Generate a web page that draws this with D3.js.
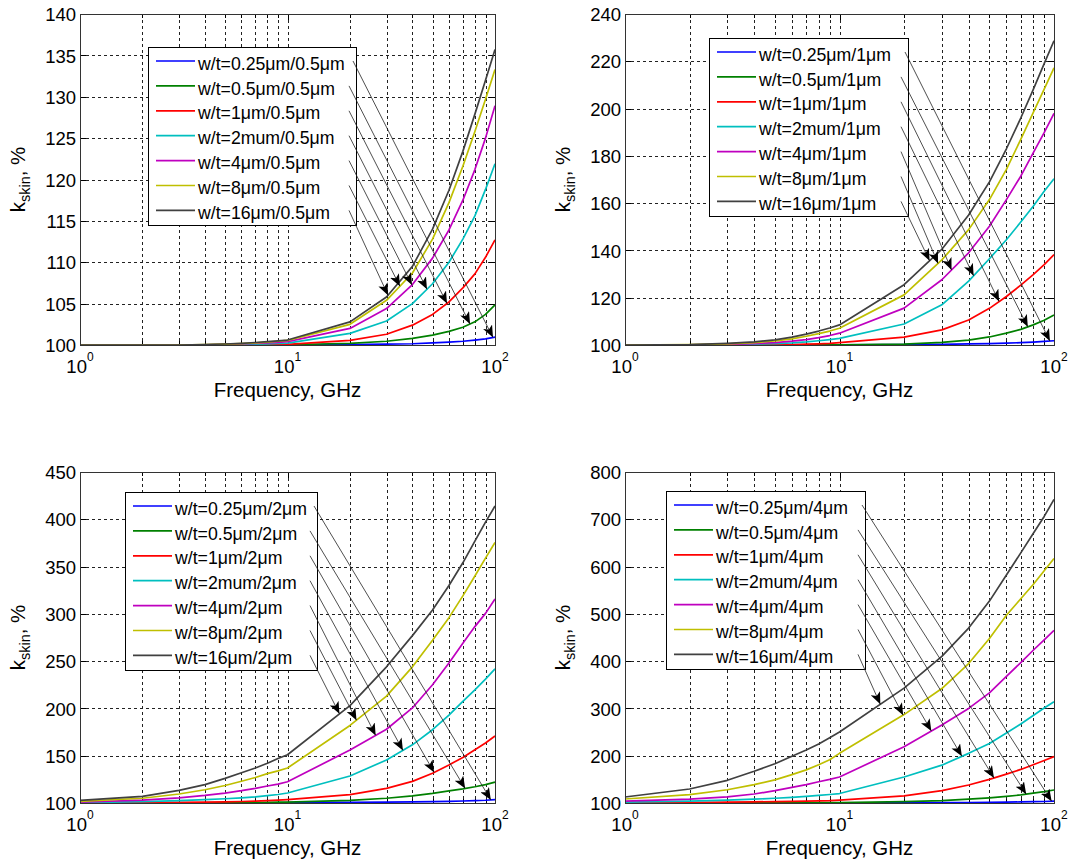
<!DOCTYPE html>
<html>
<head>
<meta charset="utf-8">
<script src="https://cdn.jsdelivr.net/npm/d3@7"></script>
<style>
  body { margin: 0; background: #fff; }
  svg text { font-family: "Liberation Sans", Arial, sans-serif; fill: #000; }
</style>
</head>
<body>
<div id="chart"></div>
<script>
const width = 1072;
const height = 861;

// frequency points, GHz
const freqs = [1, 2, 3, 4, 5, 6, 7, 8, 9, 10, 20, 30, 40, 50, 60, 70, 80, 90, 100];

const colors = ["#0000ff", "#008000", "#ff0000", "#00bfbf", "#bf00bf", "#bfbf00", "#404040"];

// t = 0.5um
const labels_t05 = ["w/t=0.25μm/0.5μm", "w/t=0.5μm/0.5μm", "w/t=1μm/0.5μm", "w/t=2mum/0.5μm",
    "w/t=4μm/0.5μm", "w/t=8μm/0.5μm", "w/t=16μm/0.5μm"];
const ks_t05 = [
    [100,100,100,100,100,100,100,100,100,100.02,100.05,100.1,100.15,100.25,100.35,100.45,100.6,100.75,100.95],
    [100,100,100,100,100,100,100,100.01,100.02,100.03,100.2,100.45,100.8,101.2,101.65,102.15,102.8,103.7,104.85],
    [100,100,100,100,100.01,100.02,100.03,100.04,100.05,100.07,100.55,101.3,102.4,103.7,105.2,106.9,108.6,110.6,112.7],
    [100,100,100,100.02,100.04,100.07,100.1,100.14,100.18,100.22,101.4,102.9,105.0,107.4,110.0,112.8,115.6,118.8,121.9],
    [100,100,100,100.03,100.07,100.12,100.18,100.25,100.32,100.4,102.0,104.4,107.3,110.5,113.9,117.5,121.2,125.0,128.9],
    [100,100,100,100.05,100.1,100.17,100.25,100.35,100.45,100.55,102.5,105.4,108.7,112.8,117.2,121.6,125.8,129.7,133.3],
    [100,100,100,100.06,100.12,100.2,100.3,100.4,100.5,100.6,102.8,105.8,109.5,114.0,118.7,123.4,127.9,132.0,135.7]
];
const arrows_t05 = [97.8, 75.8, 58.7, 47, 39.8, 34.8, 30.5];
const yticks_t05 = [100, 105, 110, 115, 120, 125, 130, 135, 140];

// t = 1um
const labels_t1 = ["w/t=0.25μm/1μm", "w/t=0.5μm/1μm", "w/t=1μm/1μm", "w/t=2mum/1μm",
    "w/t=4μm/1μm", "w/t=8μm/1μm", "w/t=16μm/1μm"];
const ks_t1 = [
    [100,100,100,100,100,100,100,100,100,100.05,100.15,100.3,100.45,100.6,100.8,101.0,101.25,101.5,101.8],
    [100,100,100,100,100.01,100.02,100.04,100.06,100.08,100.1,100.4,101.1,102.1,103.4,105.0,106.6,108.5,110.5,112.7],
    [100,100,100.02,100.05,100.1,100.2,100.35,100.5,100.7,101.0,103.3,106.4,110.6,115.5,120.5,125.3,129.8,134.0,138.2],
    [100,100.05,100.15,100.35,100.6,100.9,101.3,101.8,102.3,102.8,108.9,117.0,127.0,136.5,144.5,152.0,158.7,165.0,170.3],
    [100,100.1,100.3,100.6,101.0,101.6,102.3,103.1,104.0,105.0,115.6,127.6,139.0,150.2,161.5,171.4,181.3,189.8,198.0],
    [100,100.15,100.5,101.0,101.7,102.6,103.7,104.8,105.9,107.1,121.2,136.0,148.8,161.5,174.3,187.0,198.3,208.2,217.2],
    [100,100.2,100.7,101.3,102.2,103.3,104.6,105.9,107.2,108.5,125.5,140.5,155.0,169.0,183.0,196.0,208.0,219.0,228.7]
];
const arrows_t1 = [95.7, 75.5, 55.5, 42.2, 33.3, 28.8, 26.3];
const yticks_t1 = [100, 120, 140, 160, 180, 200, 220, 240];

// t = 2um
const labels_t2 = ["w/t=0.25μm/2μm", "w/t=0.5μm/2μm", "w/t=1μm/2μm", "w/t=2mum/2μm",
    "w/t=4μm/2μm", "w/t=8μm/2μm", "w/t=16μm/2μm"];
const ks_t2 = [
    [100,100,100,100,100,100.05,100.1,100.15,100.2,100.3,100.6,100.9,101.2,101.5,101.8,102.1,102.5,102.9,103.5],
    [100,100.05,100.1,100.2,100.3,100.4,100.55,100.7,100.85,101.0,102.8,105.0,107.5,110.2,112.8,115.0,117.2,119.5,122.0],
    [100.1,100.3,100.6,100.9,101.2,101.6,102.0,102.5,103.0,103.6,108.8,115.5,122.9,131.5,140.3,148.2,156.3,163.5,170.8],
    [100.5,101.5,102.5,103.5,104.5,105.5,106.5,107.7,109.0,110.6,128.5,145.5,161.5,177.5,193.0,207.4,219.7,231.0,241.8],
    [101,103,105.5,108,110.5,113,115.5,118,120,122.5,156,178,200.5,225,248,269,286.5,300.5,315.8],
    [101.8,105,109.5,114,118.5,123,127,131,134,137,182,213,244,272,296,319,340,359,375.5],
    [102.8,107,113.4,119.4,126,132,137,142,147,151,203,244,277,304,330,354,377,397,414]
];
const arrows_t2 = [95.5, 71.8, 50.9, 36.0, 26.6, 21.5, 17.8];
const yticks_t2 = [100, 150, 200, 250, 300, 350, 400, 450];

// t = 4um
const labels_t4 = ["w/t=0.25μm/4μm", "w/t=0.5μm/4μm", "w/t=1μm/4μm", "w/t=2mum/4μm",
    "w/t=4μm/4μm", "w/t=8μm/4μm", "w/t=16μm/4μm"];
const ks_t4 = [
    [100,100,100,100,100,100,100.1,100.1,100.2,100.2,100.5,100.8,101.1,101.5,101.9,102.3,102.8,103.2,103.8],
    [100.1,100.2,100.3,100.4,100.5,100.6,100.7,100.8,100.9,101,103,105,108,111,114,117,121,124,127.5],
    [100.5,101,101.7,102.5,103,103.5,104,104.5,105,106,115,126,138,150,161,171,181,190,198],
    [102,104,106,108,110,112,114,116,118,120,155,180,205,226,248,267,285,301,314],
    [104,108,113,119,126,133,139,145,150,155,219,265,300,333,368,397,423,445,465],
    [108.5,117.6,128,138.7,149,160,170,181,191.5,205,287,342,395,448,497,532,562,591,617],
    [112.7,129.6,148,167,183,199,212,225,238,250,343,410,470,527,582,629,670,706,742]
];
const arrows_t4 = [97.5, 74.2, 52.5, 37.2, 26.8, 19.8, 15.5];
const yticks_t4 = [100, 200, 300, 400, 500, 600, 700, 800];

const panels = [
    {left: 80, right: 495, top: 14, bottom: 345, yticks: yticks_t05, data: ks_t05, labels: labels_t05, arrows: arrows_t05,
     legend: {x: 148, y: 47, w: 208, h: 178}},
    {left: 625, right: 1054, top: 14, bottom: 345, yticks: yticks_t1, data: ks_t1, labels: labels_t1, arrows: arrows_t1,
     legend: {x: 709, y: 38, w: 199, h: 178}},
    {left: 80, right: 495, top: 472, bottom: 803, yticks: yticks_t2, data: ks_t2, labels: labels_t2, arrows: arrows_t2,
     legend: {x: 125, y: 492, w: 192, h: 178}},
    {left: 625, right: 1054, top: 472, bottom: 803, yticks: yticks_t4, data: ks_t4, labels: labels_t4, arrows: arrows_t4,
     legend: {x: 666, y: 491, w: 199, h: 178}}
];

let svg = d3.select("#chart")
    .append("svg")
    .attr("width", width)
    .attr("height", height);

svg.append("rect").attr("width", width).attr("height", height).attr("fill", "#fff");

svg.append("defs").append("marker")
    .attr("id", "head")
    .attr("viewBox", "0 0 12 10")
    .attr("refX", 12)
    .attr("refY", 5)
    .attr("markerWidth", 12)
    .attr("markerHeight", 10)
    .attr("markerUnits", "userSpaceOnUse")
    .attr("orient", "auto")
    .append("path")
    .attr("d", "M0,0 L12,5 L0,10 L3,5 Z")
    .attr("fill", "#000");

// value of a series at frequency f, linear between points on the log axis
function valueAt(vals, f) {
    let i = d3.bisectRight(freqs, f) - 1;
    i = Math.max(0, Math.min(freqs.length - 2, i));
    const t = (Math.log10(f) - Math.log10(freqs[i])) / (Math.log10(freqs[i + 1]) - Math.log10(freqs[i]));
    return vals[i] + t * (vals[i + 1] - vals[i]);
}

function drawPanel(p) {
    const g = svg.append("g");

    const x = d3.scaleLog().domain([1, 100]).range([p.left, p.right]);
    const y = d3.scaleLinear().domain(d3.extent(p.yticks)).range([p.bottom, p.top]);

    const xAll = x.ticks();
    const xMajor = xAll.filter(v => Math.abs(Math.log10(v) - Math.round(Math.log10(v))) < 1e-9);
    const xMinor = xAll.filter(v => !xMajor.includes(v));

    // dotted grid
    const grid = g.append("g")
        .attr("stroke", "#222")
        .attr("stroke-width", 1)
        .attr("stroke-dasharray", "3,3")
        .attr("shape-rendering", "crispEdges");
    grid.selectAll(".gx")
        .data(xAll.filter(v => v > 1 && v < 100))
        .join("line")
        .attr("x1", d => Math.round(x(d)) + 0.5)
        .attr("x2", d => Math.round(x(d)) + 0.5)
        .attr("y1", p.top)
        .attr("y2", p.bottom);
    grid.selectAll(".gy")
        .data(p.yticks.slice(1, -1))
        .join("line")
        .attr("x1", p.left)
        .attr("x2", p.right)
        .attr("y1", d => Math.round(y(d)) + 0.5)
        .attr("y2", d => Math.round(y(d)) + 0.5);

    // inward ticks on all four sides
    const tickStyle = sel => {
        sel.select(".domain").remove();
        sel.selectAll("line").attr("stroke", "#000").attr("shape-rendering", "crispEdges");
    };
    g.append("g").attr("transform", `translate(0,${p.bottom})`)
        .call(d3.axisBottom(x).tickValues(xMajor).tickSizeInner(-6).tickSizeOuter(0).tickFormat(""))
        .call(tickStyle);
    g.append("g").attr("transform", `translate(0,${p.bottom})`)
        .call(d3.axisBottom(x).tickValues(xMinor).tickSizeInner(-4).tickSizeOuter(0).tickFormat(""))
        .call(tickStyle);
    g.append("g").attr("transform", `translate(0,${p.top})`)
        .call(d3.axisTop(x).tickValues(xMajor).tickSizeInner(-6).tickSizeOuter(0).tickFormat(""))
        .call(tickStyle);
    g.append("g").attr("transform", `translate(0,${p.top})`)
        .call(d3.axisTop(x).tickValues(xMinor).tickSizeInner(-4).tickSizeOuter(0).tickFormat(""))
        .call(tickStyle);
    g.append("g").attr("transform", `translate(${p.right},0)`)
        .call(d3.axisRight(y).tickValues(p.yticks).tickSizeInner(-6).tickSizeOuter(0).tickFormat(""))
        .call(tickStyle);

    const yAxis = g.append("g").attr("transform", `translate(${p.left},0)`)
        .call(d3.axisLeft(y).tickValues(p.yticks).tickSizeInner(-6).tickSizeOuter(0).tickPadding(4))
        .call(tickStyle);
    yAxis.selectAll("text")
        .attr("fill", "#000")
        .style("font-family", "'Liberation Sans', Arial, sans-serif")
        .style("font-size", "18.5px")
        .attr("dy", "0.36em");

    // x tick labels 10^n
    xMajor.forEach(v => {
        const t = g.append("text")
            .attr("x", x(v))
            .attr("y", p.bottom + 28)
            .attr("text-anchor", "middle")
            .style("font-size", "18.5px");
        t.append("tspan").text("10");
        t.append("tspan").attr("dy", -12).style("font-size", "12px").text(Math.round(Math.log10(v)));
    });

    // axis labels
    g.append("text")
        .attr("x", (p.left + p.right) / 2)
        .attr("y", p.bottom + 52)
        .attr("text-anchor", "middle")
        .style("font-size", "20.5px")
        .text("Frequency, GHz");

    const yl = g.append("text")
        .attr("transform", `translate(${p.left - 55},${(p.top + p.bottom) / 2}) rotate(-90)`)
        .attr("text-anchor", "middle")
        .style("font-size", "20.5px");
    yl.append("tspan").text("k");
    yl.append("tspan").attr("dy", 5).style("font-size", "14.5px").text("skin");
    yl.append("tspan").attr("dy", -5).text(", %");

    // curves
    const line = d3.line()
        .x((d, i) => x(freqs[i]))
        .y(d => y(d));
    g.append("g")
        .selectAll("path")
        .data(p.data)
        .join("path")
        .attr("fill", "none")
        .attr("stroke", (d, i) => colors[i])
        .attr("stroke-width", 1.7)
        .attr("stroke-linejoin", "round")
        .attr("d", line);

    // legend
    const L = p.legend;
    const lg = g.append("g");
    lg.append("rect")
        .attr("x", L.x + 0.5)
        .attr("y", L.y + 0.5)
        .attr("width", L.w)
        .attr("height", L.h)
        .attr("fill", "#fff")
        .attr("stroke", "#000")
        .attr("stroke-width", 1);
    const rowY = i => L.y + 14 + i * 24.9;
    p.labels.forEach((lab, i) => {
        lg.append("line")
            .attr("x1", L.x + 8)
            .attr("x2", L.x + 47)
            .attr("y1", rowY(i))
            .attr("y2", rowY(i))
            .attr("stroke", colors[i])
            .attr("stroke-width", 1.7);
        lg.append("text")
            .attr("x", L.x + 50)
            .attr("y", rowY(i) + 8.6)
            .style("font-size", "17.7px")
            .text(lab);
    });

    // arrows from legend rows to curves
    g.append("g")
        .selectAll("line")
        .data(p.arrows)
        .join("line")
        .attr("x1", (d, i) => L.x + L.w - (i === 0 ? 3 : 7))
        .attr("y1", (d, i) => rowY(i))
        .attr("x2", d => x(d))
        .attr("y2", (d, i) => y(valueAt(p.data[i], d)))
        .attr("stroke", "#222")
        .attr("stroke-width", 0.8)
        .attr("marker-end", "url(#head)");

    // box
    g.append("rect")
        .attr("x", p.left + 0.5)
        .attr("y", p.top + 0.5)
        .attr("width", p.right - p.left)
        .attr("height", p.bottom - p.top)
        .attr("fill", "none")
        .attr("stroke", "#333")
        .attr("stroke-width", 1);
}

panels.forEach(drawPanel);
</script>
</body>
</html>
